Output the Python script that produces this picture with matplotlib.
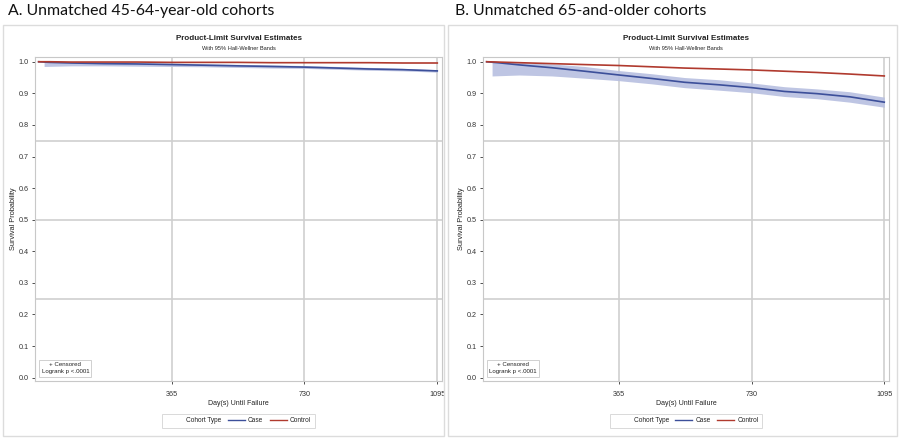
import matplotlib
matplotlib.use("Agg")
import matplotlib.pyplot as plt
from matplotlib.lines import Line2D
from matplotlib.patches import Rectangle

plt.rcParams['font.family'] = ['Liberation Sans', 'DejaVu Sans']

# survival curves (day, probability)
days = [0, 30, 90, 180, 270, 365, 455, 545, 640, 730, 820, 910, 1000, 1095]
a_case = [1.0, 0.998, 0.996, 0.994, 0.993, 0.991, 0.989, 0.987, 0.985, 0.983, 0.980, 0.977, 0.975, 0.971]
a_control = [1.0, 1.0, 0.999, 0.999, 0.999, 0.998, 0.998, 0.998, 0.997, 0.997, 0.997, 0.997, 0.996, 0.996]
b_case = [1.0, 0.997, 0.990, 0.981, 0.970, 0.958, 0.947, 0.935, 0.927, 0.918, 0.906, 0.899, 0.889, 0.872]
b_control = [1.0, 0.999, 0.997, 0.994, 0.991, 0.988, 0.984, 0.980, 0.977, 0.974, 0.970, 0.966, 0.961, 0.955]

# Hall-Wellner bands for the case cohort
band_days = [15, 90, 180, 270, 365, 455, 545, 640, 730, 820, 910, 1000, 1095]
a_lower = [0.985, 0.987, 0.987, 0.986, 0.985, 0.984, 0.982, 0.980, 0.979, 0.976, 0.973, 0.971, 0.967]
a_upper = [1.0, 0.999, 0.998, 0.997, 0.996, 0.994, 0.992, 0.990, 0.988, 0.985, 0.982, 0.979, 0.975]
b_lower = [0.955, 0.958, 0.955, 0.948, 0.940, 0.930, 0.918, 0.910, 0.902, 0.890, 0.883, 0.872, 0.856]
b_upper = [1.0, 0.998, 0.993, 0.985, 0.972, 0.962, 0.950, 0.943, 0.933, 0.921, 0.914, 0.905, 0.888]

panel_titles = ['A. Unmatched 45-64-year-old cohorts', 'B. Unmatched 65-and-older cohorts']
x_ticks = [365, 730, 1095]
y_ticks = [0.0, 0.1, 0.2, 0.3, 0.4, 0.5, 0.6, 0.7, 0.8, 0.9, 1.0]

CASE = '#3c4f9a'
BAND = '#b7bfe0'
CTRL = '#b03a2e'
GRID = '#cfcfcf'

W, H = 900, 438
fig = plt.figure(figsize=(9, 4.38), dpi=100)

# pixel geometry: (outer box left, right), (axes left, right), title x
panels = [
    dict(box=(3, 444), ax=(35, 442), tx=8, case=a_case, ctrl=a_control, lo=a_lower, hi=a_upper),
    dict(box=(448, 897), ax=(483, 889), tx=455, case=b_case, ctrl=b_control, lo=b_lower, hi=b_upper),
]
ax_top, ax_bot = 57, 381

for i, p in enumerate(panels):
    bx0, bx1 = p['box']
    fig.add_artist(Rectangle((bx0 / W, 1 - 436 / H), (bx1 - bx0) / W, (436 - 25) / H,
                             transform=fig.transFigure, fill=False, ec='#dcdcdc', lw=1))
    fig.text(p['tx'] / W, 1 - 11 / H, panel_titles[i], fontsize=11.4,
             family=['Lato', 'DejaVu Sans'], va='center', ha='left', color='#111')

    x0, x1 = p['ax']
    ax = fig.add_axes([x0 / W, 1 - ax_bot / H, (x1 - x0) / W, (ax_bot - ax_top) / H])
    ax.fill_between(band_days, p['lo'], p['hi'], color=BAND, lw=0, alpha=0.9)
    ax.plot(days, p['case'], color=CASE, lw=1.2)
    ax.plot(days, p['ctrl'], color=CTRL, lw=1.2)

    for d in x_ticks:
        ax.axvline(d, color=GRID, lw=1.2, zorder=0)
    for v in [0.25, 0.5, 0.75]:
        ax.axhline(v, color=GRID, lw=1.2, zorder=0)

    ax.set_xlim(-10, 1108)
    ax.set_ylim(-0.0105, 1.015)
    ax.set_xticks(x_ticks)
    ax.set_yticks(y_ticks)
    ax.set_yticklabels(['%.1f' % v for v in y_ticks])
    ax.tick_params(labelsize=5.2, colors='#333', length=2.5, width=0.6, pad=2)
    ax.tick_params(axis='x', pad=5)
    for s in ax.spines.values():
        s.set_color('#c8c8c8')
        s.set_linewidth(0.8)

    ax.text(0.5, 1.058, 'Product-Limit Survival Estimates', transform=ax.transAxes,
            ha='center', va='center', fontsize=5.8, fontweight='bold', color='#222')
    ax.text(0.5, 1.026, 'With 95% Hall-Wellner Bands', transform=ax.transAxes,
            ha='center', va='center', fontsize=4.1, color='#222')
    ax.text(0.5, -0.068, 'Day(s) Until Failure', transform=ax.transAxes,
            ha='center', va='center', fontsize=5, color='#222')
    ax.text(-0.052, 0.5, 'Survival Probability', transform=ax.transAxes, rotation=90,
            ha='center', va='center', fontsize=5.3, color='#222')
    ax.text(0.016, 0.039, '+ Censored\nLogrank p <.0001', transform=ax.transAxes,
            ha='left', va='center', fontsize=4.4, color='#222', linespacing=1.5,
            multialignment='center',
            bbox=dict(boxstyle='square,pad=0.35', fc='white', ec='#d0d0d0', lw=0.7))

    handles = [Line2D([], [], color='none'), Line2D([], [], color=CASE, lw=1),
               Line2D([], [], color=CTRL, lw=1)]
    leg = ax.legend(handles, ['Cohort Type', 'Case', 'Control'], ncol=3, loc='center',
                    bbox_to_anchor=(0.5, -0.123), fontsize=4.7, frameon=True, fancybox=False,
                    handlelength=2.6, columnspacing=1.0, handletextpad=0.5, borderpad=0.55)
    leg.get_frame().set_edgecolor('#d0d0d0')
    leg.get_frame().set_linewidth(0.7)
    for t in leg.get_texts():
        t.set_color('#222')

fig.savefig('out.png', dpi=100)
